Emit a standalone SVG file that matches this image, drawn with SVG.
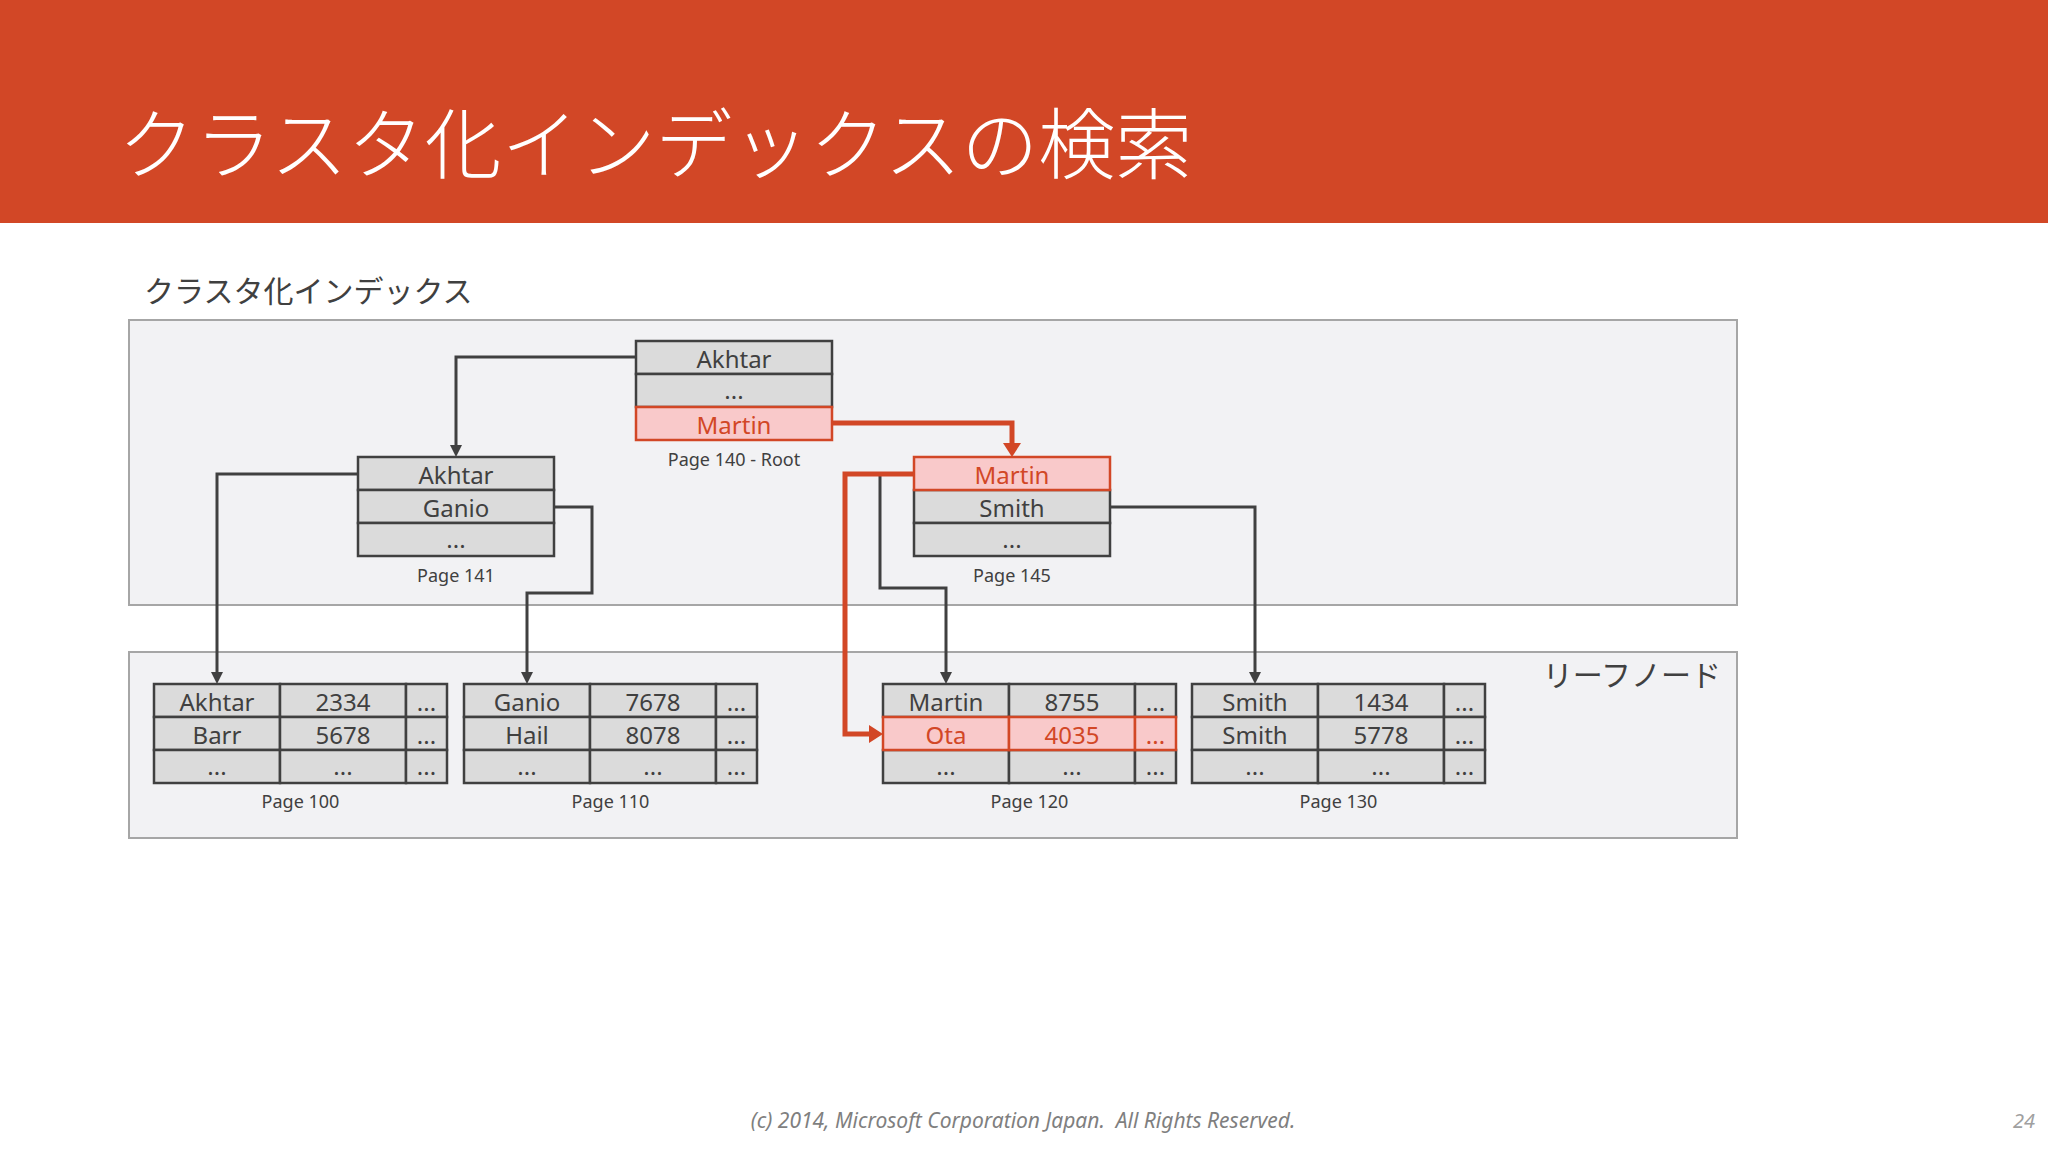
<svg xmlns="http://www.w3.org/2000/svg" width="2048" height="1152" viewBox="0 0 2048 1152">
<style>
.cell{fill:#DBDBDB;stroke:#404040;stroke-width:2.5}
.hl{fill:#F9C9CA;stroke:#D24726;stroke-width:2.5}
.t{font-family:"Noto Sans","Open Sans",sans-serif;font-size:24px;fill:#404040;text-anchor:middle}
.tr{fill:#D24726}
.lbl{font-family:"Noto Sans","Open Sans",sans-serif;font-size:18px;fill:#404040;text-anchor:middle}
.jp{font-family:"Noto Sans CJK JP",sans-serif;fill:#404040}
.conn{fill:none;stroke:#404040;stroke-width:3}
.red{fill:none;stroke:#D24726;stroke-width:5}
.panel{fill:#F2F2F4;stroke:#A6A6A6;stroke-width:2}
</style>
<defs>
<marker id="ag" markerUnits="userSpaceOnUse" viewBox="0 0 12 12" markerWidth="12" markerHeight="12" refX="4" refY="6" orient="auto"><path d="M0,0 L12,6 L0,12 z" fill="#404040"/></marker>
<marker id="ar" markerUnits="userSpaceOnUse" viewBox="0 0 14 18" markerWidth="14" markerHeight="18" refX="4" refY="9" orient="auto"><path d="M0,0 L14,9 L0,18 z" fill="#D24726"/></marker>
</defs>
<rect x="0" y="0" width="2048" height="1152" fill="#FFFFFF"/>
<rect x="0" y="0" width="2048" height="223" fill="#D24726"/>
<text x="118" y="173" font-family="'Noto Sans CJK JP',sans-serif" font-weight="300" font-size="77" fill="#FFFFFF">クラスタ化インデックスの検索</text>
<text class="jp" x="144" y="302" font-size="30">クラスタ化インデックス</text>
<rect class="panel" x="129" y="320" width="1608" height="285"/>
<rect class="panel" x="129" y="652" width="1608" height="186"/>
<text class="jp" x="1721" y="686" font-size="30" text-anchor="end">リーフノード</text>

<g id="connectors">
<path class="conn" d="M636,357 H456 V449" marker-end="url(#ag)"/>
<path class="conn" d="M358,474 H217 V676" marker-end="url(#ag)"/>
<path class="conn" d="M554,507 H592 V593 H527 V676" marker-end="url(#ag)"/>
<path class="conn" d="M914,474 H880 V588 H946 V676" marker-end="url(#ag)"/>
<path class="conn" d="M1110,507 H1255 V676" marker-end="url(#ag)"/>
<path class="red" d="M832,423 H1012 V447" marker-end="url(#ar)"/>
<path class="red" d="M914,474 H845 V734 H873" marker-end="url(#ar)"/>
</g>

<g id="page140">
<rect class="cell" x="636" y="341" width="196" height="33"/>
<rect class="cell" x="636" y="374" width="196" height="33"/>
<rect class="hl" x="636" y="407" width="196" height="33"/>
<text class="t" x="734" y="367.5">Akhtar</text>
<text class="t" x="734" y="398.5">...</text>
<text class="t tr" x="734" y="433.5">Martin</text>
<text class="lbl" x="734" y="466">Page 140 - Root</text>
</g>

<g id="page141">
<rect class="cell" x="358" y="457" width="196" height="33"/>
<rect class="cell" x="358" y="490" width="196" height="33"/>
<rect class="cell" x="358" y="523" width="196" height="33"/>
<text class="t" x="456" y="483.5">Akhtar</text>
<text class="t" x="456" y="516.5">Ganio</text>
<text class="t" x="456" y="547.5">...</text>
<text class="lbl" x="456" y="582">Page 141</text>
</g>

<g id="page145">
<rect class="cell" x="914" y="490" width="196" height="33"/>
<rect class="cell" x="914" y="523" width="196" height="33"/>
<rect class="hl" x="914" y="457" width="196" height="33"/>
<text class="t tr" x="1012" y="483.5">Martin</text>
<text class="t" x="1012" y="516.5">Smith</text>
<text class="t" x="1012" y="547.5">...</text>
<text class="lbl" x="1012" y="582">Page 145</text>
</g>

<g id="page100">
<rect class="cell" x="154" y="684" width="126" height="33"/><rect class="cell" x="280" y="684" width="126" height="33"/><rect class="cell" x="406" y="684" width="41" height="33"/>
<rect class="cell" x="154" y="717" width="126" height="33"/><rect class="cell" x="280" y="717" width="126" height="33"/><rect class="cell" x="406" y="717" width="41" height="33"/>
<rect class="cell" x="154" y="750" width="126" height="33"/><rect class="cell" x="280" y="750" width="126" height="33"/><rect class="cell" x="406" y="750" width="41" height="33"/>
<text class="t" x="217" y="710.5">Akhtar</text><text class="t" x="343" y="710.5">2334</text><text class="t" x="426.5" y="710.5">...</text>
<text class="t" x="217" y="743.5">Barr</text><text class="t" x="343" y="743.5">5678</text><text class="t" x="426.5" y="743.5">...</text>
<text class="t" x="217" y="774.5">...</text><text class="t" x="343" y="774.5">...</text><text class="t" x="426.5" y="774.5">...</text>
<text class="lbl" x="300.5" y="808">Page 100</text>
</g>

<g id="page110">
<rect class="cell" x="464" y="684" width="126" height="33"/><rect class="cell" x="590" y="684" width="126" height="33"/><rect class="cell" x="716" y="684" width="41" height="33"/>
<rect class="cell" x="464" y="717" width="126" height="33"/><rect class="cell" x="590" y="717" width="126" height="33"/><rect class="cell" x="716" y="717" width="41" height="33"/>
<rect class="cell" x="464" y="750" width="126" height="33"/><rect class="cell" x="590" y="750" width="126" height="33"/><rect class="cell" x="716" y="750" width="41" height="33"/>
<text class="t" x="527" y="710.5">Ganio</text><text class="t" x="653" y="710.5">7678</text><text class="t" x="736.5" y="710.5">...</text>
<text class="t" x="527" y="743.5">Hail</text><text class="t" x="653" y="743.5">8078</text><text class="t" x="736.5" y="743.5">...</text>
<text class="t" x="527" y="774.5">...</text><text class="t" x="653" y="774.5">...</text><text class="t" x="736.5" y="774.5">...</text>
<text class="lbl" x="610.5" y="808">Page 110</text>
</g>

<g id="page120">
<rect class="cell" x="883" y="684" width="126" height="33"/><rect class="cell" x="1009" y="684" width="126" height="33"/><rect class="cell" x="1135" y="684" width="41" height="33"/>
<rect class="cell" x="883" y="750" width="126" height="33"/><rect class="cell" x="1009" y="750" width="126" height="33"/><rect class="cell" x="1135" y="750" width="41" height="33"/>
<rect class="hl" x="883" y="717" width="126" height="33"/><rect class="hl" x="1009" y="717" width="126" height="33"/><rect class="hl" x="1135" y="717" width="41" height="33"/>
<text class="t" x="946" y="710.5">Martin</text><text class="t" x="1072" y="710.5">8755</text><text class="t" x="1155.5" y="710.5">...</text>
<text class="t tr" x="946" y="743.5">Ota</text><text class="t tr" x="1072" y="743.5">4035</text><text class="t tr" x="1155.5" y="743.5">...</text>
<text class="t" x="946" y="774.5">...</text><text class="t" x="1072" y="774.5">...</text><text class="t" x="1155.5" y="774.5">...</text>
<text class="lbl" x="1029.5" y="808">Page 120</text>
</g>

<g id="page130">
<rect class="cell" x="1192" y="684" width="126" height="33"/><rect class="cell" x="1318" y="684" width="126" height="33"/><rect class="cell" x="1444" y="684" width="41" height="33"/>
<rect class="cell" x="1192" y="717" width="126" height="33"/><rect class="cell" x="1318" y="717" width="126" height="33"/><rect class="cell" x="1444" y="717" width="41" height="33"/>
<rect class="cell" x="1192" y="750" width="126" height="33"/><rect class="cell" x="1318" y="750" width="126" height="33"/><rect class="cell" x="1444" y="750" width="41" height="33"/>
<text class="t" x="1255" y="710.5">Smith</text><text class="t" x="1381" y="710.5">1434</text><text class="t" x="1464.5" y="710.5">...</text>
<text class="t" x="1255" y="743.5">Smith</text><text class="t" x="1381" y="743.5">5778</text><text class="t" x="1464.5" y="743.5">...</text>
<text class="t" x="1255" y="774.5">...</text><text class="t" x="1381" y="774.5">...</text><text class="t" x="1464.5" y="774.5">...</text>
<text class="lbl" x="1338.5" y="808">Page 130</text>
</g>

<text x="1023" y="1128" font-family="'Noto Sans','Open Sans',sans-serif" font-style="italic" font-size="21" fill="#7F7F7F" text-anchor="middle" xml:space="preserve">(c) 2014, Microsoft Corporation Japan.  All Rights Reserved.</text>
<text x="2035" y="1128" font-family="'Noto Sans','Open Sans',sans-serif" font-style="italic" font-size="20" fill="#A0A0A0" text-anchor="end">24</text>
</svg>
